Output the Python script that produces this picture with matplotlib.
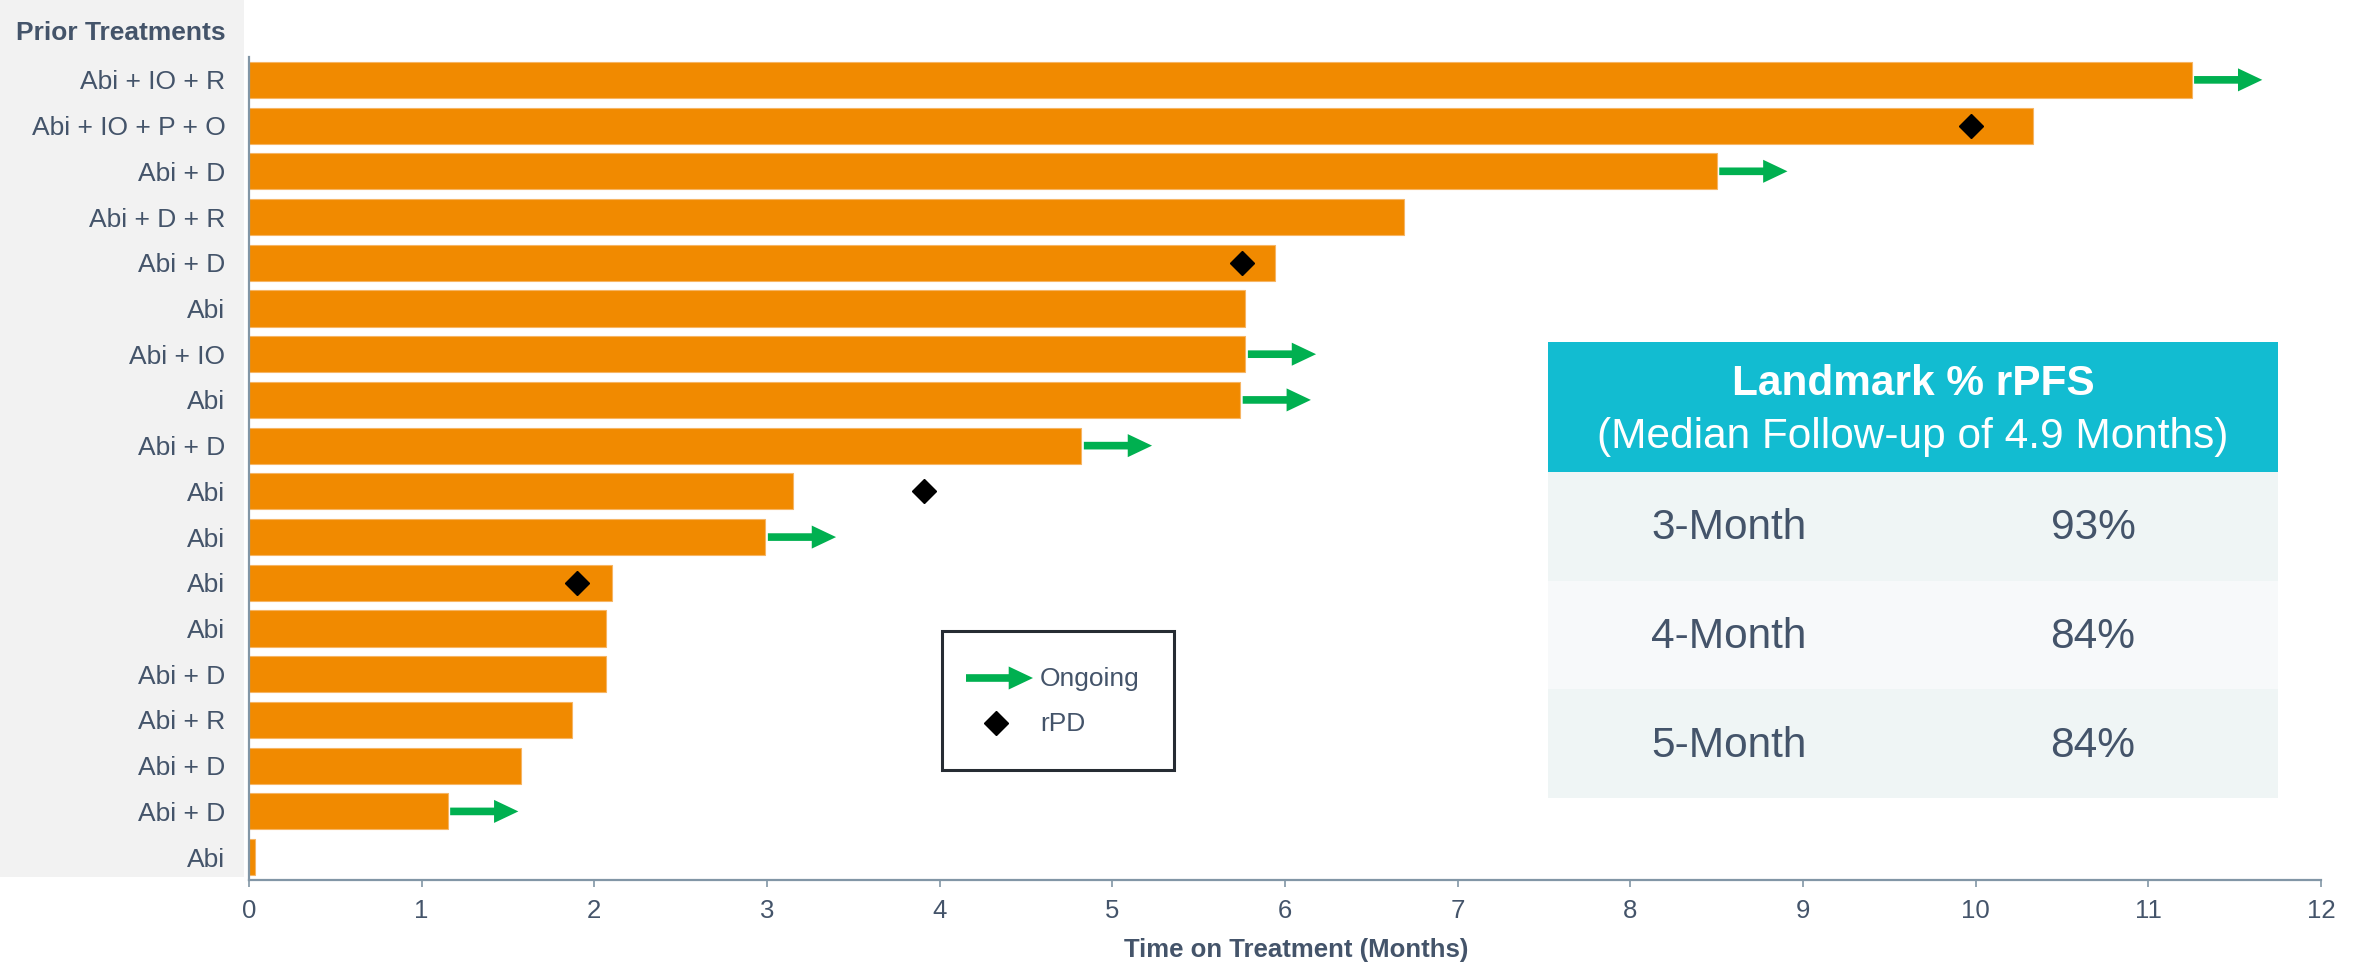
import numpy as np
import matplotlib.pyplot as plt
from matplotlib.patches import Rectangle, FancyArrowPatch

plt.rcParams["font.family"] = ["Liberation Sans", "DejaVu Sans"]

# swimmer data, top row first
treatments = ["Abi + IO + R", "Abi + IO + P + O", "Abi + D", "Abi + D + R", "Abi + D",
              "Abi", "Abi + IO", "Abi", "Abi + D", "Abi", "Abi", "Abi", "Abi",
              "Abi + D", "Abi + R", "Abi + D", "Abi + D", "Abi"]
months = [11.25, 10.33, 8.50, 6.69, 5.94, 5.77, 5.77, 5.74, 4.82, 3.15, 2.99,
          2.10, 2.07, 2.07, 1.87, 1.575, 1.15, 0.035]
ongoing = [1, 0, 1, 0, 0, 0, 1, 1, 1, 0, 1, 0, 0, 0, 0, 0, 1, 0]
rpd_month = [np.nan, 9.975, np.nan, np.nan, 5.75, np.nan, np.nan, np.nan, np.nan,
             3.91, np.nan, 1.90, np.nan, np.nan, np.nan, np.nan, np.nan, np.nan]

landmarks = ["3-Month", "4-Month", "5-Month"]
landmark_rpfs = ["93%", "84%", "84%"]

ORANGE = "#F18A00"
GREEN = "#00B050"
TEXT = "#44546A"
AXIS = "#8296A6"
CYAN = "#12BCD1"

W, H = 2357, 963
fig = plt.figure(figsize=(W / 100, H / 100), dpi=100)


def fx(x):
    return x / W


def fy(y):
    return 1 - y / H


# grey panel behind the treatment names
fig.patches.append(Rectangle((0, fy(877)), fx(244), fy(0) - fy(877),
                             transform=fig.transFigure, facecolor="#F2F2F2",
                             edgecolor="none", zorder=-1))
fig.text(fx(121), fy(33), "Prior Treatments", ha="center", va="center",
         fontsize=19, fontweight="bold", color=TEXT)

ax = fig.add_axes([fx(249), fy(880), fx(2321) - fx(249), fy(57) - fy(880)])
ax.patch.set_alpha(0)
y = np.arange(len(months))
ax.barh(y, months, height=0.79, color=ORANGE, edgecolor="#F6B564",
        linewidth=0.8, zorder=2)

arrow_style = "simple,head_length=1.75,head_width=1.66,tail_width=0.55"
ARROW_LEN = 0.395
for yi, m, on in zip(y, months, ongoing):
    if on:
        ax.annotate("", xy=(m + 0.015 + ARROW_LEN, yi), xytext=(m + 0.015, yi),
                    arrowprops=dict(arrowstyle=arrow_style, color=GREEN,
                                    mutation_scale=10, shrinkA=0, shrinkB=0,
                                    linewidth=0), zorder=3)
ax.plot(rpd_month, y, linestyle="none", marker="D", markersize=12.5,
        color="black", zorder=4)

ax.set_xlim(0, 12)
ax.set_ylim(len(months) - 0.5, -0.5)
ax.set_xticks(range(13))
ax.set_yticks(y)
ax.set_yticklabels(treatments)
ax.tick_params(axis="y", length=0, pad=17, labelsize=19, labelcolor=TEXT)
ax.tick_params(axis="x", length=5, width=1.2, color=AXIS, pad=9,
               labelsize=18.5, labelcolor=TEXT)
for side in ("top", "right"):
    ax.spines[side].set_visible(False)
for side in ("left", "bottom"):
    ax.spines[side].set_color(AXIS)
    ax.spines[side].set_linewidth(1.6)
ax.set_xlabel("Time on Treatment (Months)", fontsize=18.5, fontweight="bold",
              color=TEXT)
ax.xaxis.set_label_coords((1296 - 249) / 2072, -(950 - 880) / 823)
ax.xaxis.label.set_va("center")

# legend box
fig.patches.append(Rectangle((fx(942), fy(770)), fx(1174) - fx(942), fy(631) - fy(770),
                             transform=fig.transFigure, facecolor="white",
                             edgecolor="#262C33", linewidth=2.2, zorder=5))
fig.add_artist(FancyArrowPatch(
    (fx(966), fy(678)), (fx(1033), fy(678)), transform=fig.transFigure,
    arrowstyle=arrow_style, mutation_scale=10, color=GREEN, linewidth=0,
    shrinkA=0, shrinkB=0, zorder=6))
fig.add_artist(plt.Line2D([fx(996)], [fy(723)], transform=fig.transFigure,
                          marker="D", markersize=12.5, color="black",
                          linestyle="none", zorder=6))
fig.text(fx(1040), fy(679), "Ongoing", ha="left", va="center", fontsize=19,
         color=TEXT, zorder=6)
fig.text(fx(1040), fy(724), "rPD", ha="left", va="center", fontsize=19,
         color=TEXT, zorder=6)

# landmark rPFS table
tx0, tx1 = 1548, 2278
header_top, header_bot = 342, 472
row_h = 108.6
fig.patches.append(Rectangle((fx(tx0), fy(header_bot)), fx(tx1) - fx(tx0),
                             fy(header_top) - fy(header_bot),
                             transform=fig.transFigure, facecolor=CYAN,
                             edgecolor="none", zorder=5))
fig.text(fx((tx0 + tx1) / 2), fy(384), "Landmark % rPFS", ha="center",
         va="center", fontsize=30.5, fontweight="bold", color="white", zorder=6)
fig.text(fx((tx0 + tx1) / 2), fy(437), "(Median Follow-up of 4.9 Months)",
         ha="center", va="center", fontsize=30.5, color="white", zorder=6)
row_colors = ["#EFF5F5", "#F7F9FA", "#EFF5F5"]
for i, (lab, val) in enumerate(zip(landmarks, landmark_rpfs)):
    top = header_bot + i * row_h
    fig.patches.append(Rectangle((fx(tx0), fy(top + row_h)), fx(tx1) - fx(tx0),
                                 fy(top) - fy(top + row_h),
                                 transform=fig.transFigure,
                                 facecolor=row_colors[i], edgecolor="none",
                                 zorder=5))
    fig.text(fx(1729), fy(top + row_h / 2 + 2), lab, ha="center", va="center",
             fontsize=30.5, color=TEXT, zorder=6)
    fig.text(fx(2093), fy(top + row_h / 2 + 2), val, ha="center", va="center",
             fontsize=30.5, color=TEXT, zorder=6)

fig.savefig("out.png", dpi=100)
